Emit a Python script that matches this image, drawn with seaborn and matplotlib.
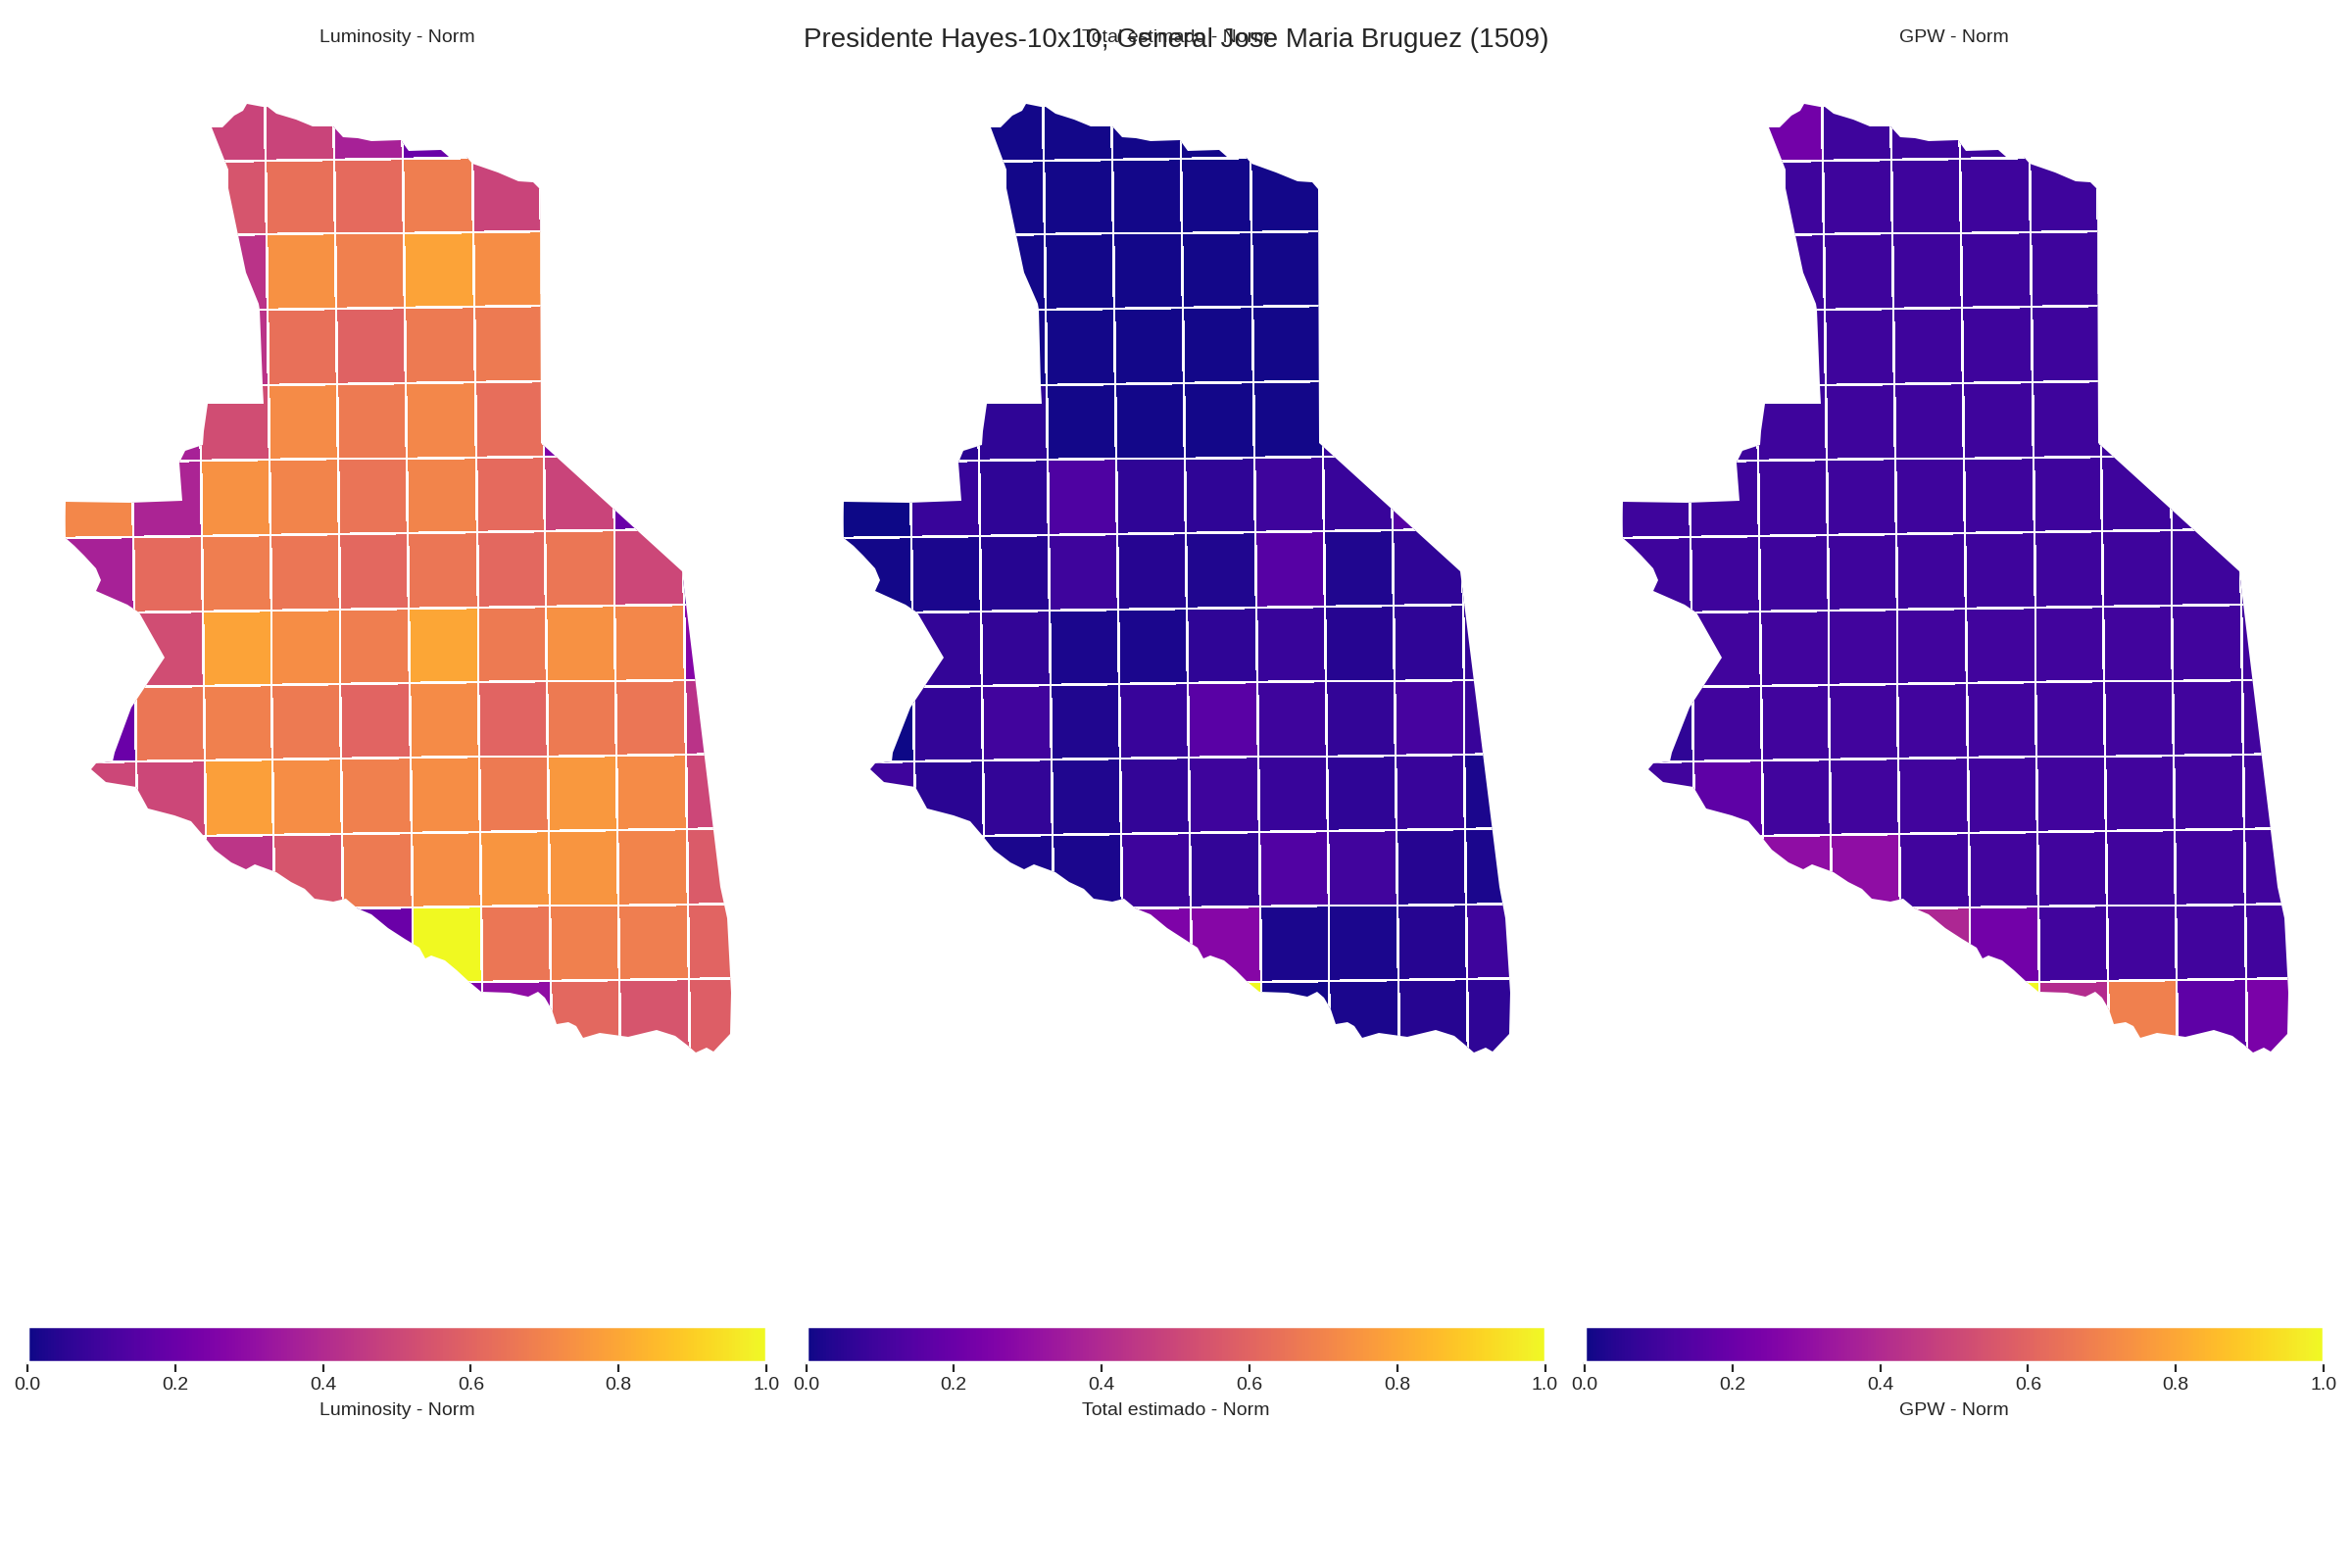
# Presidente Hayes - mapas normalizados por grilla
import numpy as np
import seaborn as sns
import matplotlib.pyplot as plt
from matplotlib.patches import Polygon
from matplotlib.cm import ScalarMappable
from matplotlib.colors import Normalize

n = np.nan

# grilla: bordes
x_top = [60, 130.3, 200.3, 270, 340, 410.2, 481, 550.7, 621, 691.6, 762]
x_bottom = [72.5, 142.8, 212.8, 282.5, 352.5, 422.7, 493.5, 563.2, 633.5, 704.1, 774.5]
y_left = [90.7, 166.4, 242.1, 318.7, 395.7, 472.1, 548.7, 625.6, 701.8, 777.9, 854.4, 930.8, 1007.2, 1083.2]
y_right = [81.6, 157.3, 233, 309.6, 386.6, 463, 539.6, 616.5, 692.7, 768.8, 845.3, 921.7, 998.1, 1074]

# contorno del departamento
outline_x = [216, 226.6, 238.7, 248.4, 252.3, 267.8, 272.7, 282.4, 301.7, 318.7, 340.5, 350.2, 364.8, 379.3,
             409.3, 417, 449.6, 457.8, 476.2, 482, 507.7, 529.5, 544, 550.9, 551.8, 695.8, 735.5, 741.8,
             746.2, 745.2, 728.3, 721, 709.8, 701.6, 689.5, 670, 641, 612, 595, 587.7, 580.4, 568.3,
             563.5, 556.2, 549, 539.2, 519.9, 490.8, 478.7, 466.5, 454.4, 440, 433.6, 427.8, 413.2, 396.3,
             379.3, 364.8, 352.6, 340.5, 321.1, 311.4, 296.9, 282.4, 260.5, 250.8, 236.3, 219.3, 207.2,
             195.1, 178.1, 151.5, 139.4, 107.9, 93.3, 98.2, 115.1, 116.6, 134.5, 168.4, 141.8, 129.7,
             98.2, 103, 98.2, 86, 76.4, 66.7, 65.7, 132, 186.4, 183, 188.8, 207.2, 208.2, 212, 268.8,
             267.8, 265.4, 264, 250.8, 242.6, 232.9, 232.9]
outline_y = [130, 130, 118.3, 113.3, 106, 109.3, 109.3, 116, 121.7, 129, 129, 140, 141, 144.3,
             143.3, 154, 152.7, 160, 160, 167.3, 175.7, 185, 186, 192.7, 451.7, 583, 905, 936.7,
             1013.3, 1055, 1073.3, 1069, 1074, 1067.3, 1056.7, 1050.7, 1058, 1054, 1059.3, 1046.7, 1042.7, 1045,
             1030, 1018.3, 1011.7, 1016.7, 1012.7, 1011.7, 1001.7, 990, 980, 975, 978.3, 966.7, 958.3, 946.7,
             933.3, 926.7, 916.7, 920, 917.3, 906.7, 900, 890, 881.7, 886.7, 880, 866.7, 851.7,
             838.3, 831.7, 825, 803.3, 798.3, 785, 779.3, 777.3, 768.3, 721.7, 670.7, 625, 616.7,
             602.7, 591.7, 580, 566.7, 556.7, 549, 511.7, 513.3, 511, 471.7, 460, 454, 440, 412.3, 411.7,
             393.3, 316, 310, 278.3, 240, 191.7, 173.3]

luminosity = [
    [n, n, .49, .49, .37, .20, n, n, n, n],
    [n, n, .55, .64, .62, .68, .49, n, n, n],
    [n, n, .43, .74, .69, .79, .73, n, n, n],
    [n, n, .43, .64, .59, .67, .67, n, n, n],
    [n, .37, .52, .72, .67, .71, .63, .25, n, n],
    [.71, .38, .74, .70, .65, .70, .62, .49, .20, n],
    [.37, .62, .68, .66, .61, .66, .61, .66, .50, .10],
    [n, .52, .79, .73, .68, .80, .67, .74, .71, .27],
    [.20, .66, .69, .67, .60, .72, .60, .67, .66, .43],
    [.50, .50, .78, .73, .69, .73, .67, .76, .72, .50],
    [n, n, .44, .55, .67, .73, .75, .75, .70, .57],
    [n, n, n, n, .20, 1.0, .66, .69, .68, .60],
    [n, n, n, n, n, .25, .30, .61, .55, .58],
]
total_estimado = [
    [n, n, .01, .01, .01, .01, n, n, n, n],
    [n, n, .01, .01, .01, .01, .01, n, n, n],
    [n, n, .01, .01, .01, .01, .01, n, n, n],
    [n, n, .01, .01, .01, .01, .01, n, n, n],
    [n, .05, .06, .01, .01, .01, .01, .08, n, n],
    [.00, .08, .06, .13, .06, .06, .09, .08, .15, n],
    [.01, .02, .04, .09, .04, .03, .15, .03, .06, .06],
    [n, .07, .07, .02, .02, .06, .08, .04, .06, .07],
    [.00, .07, .10, .03, .08, .16, .09, .07, .11, .08],
    [.09, .05, .07, .03, .07, .09, .08, .06, .08, .02],
    [n, n, .02, .02, .09, .07, .14, .10, .04, .02],
    [n, n, n, n, .25, .27, .02, .02, .04, .09],
    [n, n, n, n, n, 1.0, .01, .02, .04, .06],
]
gpw = [
    [n, n, .22, .09, .09, .09, n, n, n, n],
    [n, n, .09, .09, .09, .09, .09, n, n, n],
    [n, n, .09, .09, .09, .09, .09, n, n, n],
    [n, n, .09, .09, .09, .09, .09, n, n, n],
    [n, .09, .09, .09, .09, .09, .09, .09, n, n],
    [.09, .09, .09, .09, .09, .09, .09, .09, .09, n],
    [.09, .09, .09, .09, .09, .09, .09, .09, .09, .09],
    [n, .10, .10, .10, .10, .10, .10, .10, .10, .10],
    [.06, .10, .10, .10, .10, .10, .10, .10, .10, .10],
    [.10, .17, .10, .10, .10, .10, .10, .10, .10, .10],
    [n, n, .30, .30, .10, .10, .10, .10, .10, .10],
    [n, n, n, n, .39, .22, .10, .10, .10, .10],
    [n, n, n, n, n, 1.0, .41, .69, .17, .24],
]

names = ['Luminosity - Norm', 'Total estimado - Norm', 'GPW - Norm']
panels = [luminosity, total_estimado, gpw]
lefts = [28, 822.5, 1617]
ticks = [0.0, 0.2, 0.4, 0.6, 0.8, 1.0]

sns.set_theme(style='white')
plt.rcParams['font.family'] = ['Liberation Sans', 'DejaVu Sans']
cmap = sns.color_palette('plasma', as_cmap=True)
norm = Normalize(0, 1)

# nodos de la grilla
x_top, x_bottom = np.array(x_top), np.array(x_bottom)
y_left, y_right = np.array(y_left), np.array(y_right)
yy = y_left[:, None] + (y_right - y_left)[:, None] * (x_top[None, :] - 60) / 700
xx = x_top[None, :] + (x_bottom - x_top)[None, :] * (yy - 100) / 1000

fig = plt.figure(figsize=(12, 8), dpi=200)

for name, values, left in zip(names, panels, lefts):
    ax = fig.add_axes([left / 2400, 1 - 1320 / 1600, 754 / 2400, 1260 / 1600])
    mesh = ax.pcolormesh(xx, yy, np.array(values), cmap=cmap, norm=norm,
                         edgecolors='white', linewidth=0.6)
    ax.set_xlim(28, 782)
    ax.set_ylim(1320, 60)
    ax.set_axis_off()
    shape = Polygon(np.column_stack([outline_x, outline_y]), closed=True, transform=ax.transData,
                    facecolor='none', edgecolor='none')
    ax.add_patch(shape)
    mesh.set_clip_path(shape)
    ax.set_title(name, fontsize=7, color='.15', pad=6)

    cax = fig.add_axes([left / 2400, 1 - 1390 / 1600, 754 / 2400, 37 / 1600])
    cb = fig.colorbar(ScalarMappable(norm=norm, cmap=cmap), cax=cax, orientation='horizontal')
    cb.set_ticks(ticks)
    cb.ax.tick_params(labelsize=7, length=3.5, width=0.8, bottom=True, color='.15', labelcolor='.15', pad=2)
    cb.set_label(name, fontsize=7, color='.15', labelpad=3)
    cb.outline.set_edgecolor('white')

fig.text(0.5, 1 - 41 / 1600, 'Presidente Hayes-10x10, General Jose Maria Bruguez (1509)',
         ha='center', va='center', fontsize=10, color='.15')

fig.savefig('out.png', dpi=200)
